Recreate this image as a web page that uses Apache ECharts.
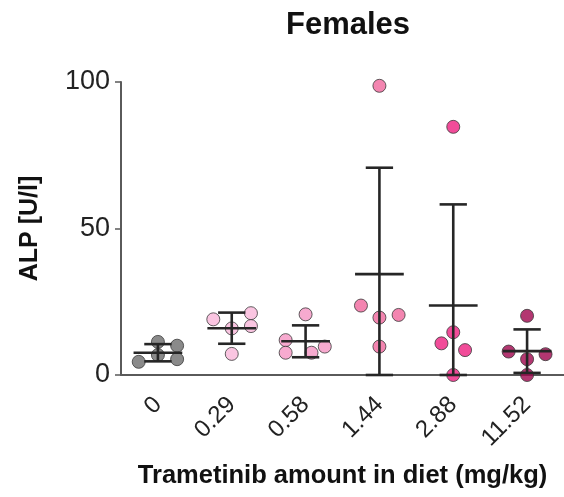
<!DOCTYPE html>
<html>
<head>
<meta charset="utf-8">
<script src="https://cdn.jsdelivr.net/npm/echarts@6/dist/echarts.min.js"></script>
<style>html,body{margin:0;padding:0;background:#fff}#c{width:564px;height:497px}</style>
</head>
<body>
<div id="c"></div>
<script>
// ---- data ----
const categories = ['0', '0.29', '0.58', '1.44', '2.88', '11.52'];
const g0 = [11.3, 10.0, 4.5, 5.4, 6.8];
const g1 = [19.0, 21.1, 16.7, 15.9, 7.2];
const g2 = [20.7, 11.9, 7.6, 7.6, 9.7];
const g3 = [98.7, 23.7, 19.6, 20.5, 9.7];
const g4 = [84.7, 14.6, 10.8, 8.5, 0];
const g5 = [20.2, 8.0, 5.4, 7.1, 0];
// horizontal jitter of each dot, in category widths
const j0 = [0, 0.26, -0.26, 0.26, 0];
const j1 = [-0.25, 0.26, 0.26, 0, 0];
const j2 = [0, -0.27, -0.27, 0.08, 0.26];
const j3 = [0, -0.25, 0, 0.26, 0];
const j4 = [0, 0, -0.16, 0.16, 0];
const j5 = [0, -0.25, 0, 0.25, 0];
const yTicks = [0, 50, 100];

const groups = [g0, g1, g2, g3, g4, g5];
const jitters = [j0, j1, j2, j3, j4, j5];
const colors = ['#6d6d6d', '#f9b6da', '#f595c3', '#f0679c', '#ee1f7f', '#a0054e'];

function mean(a) { return a.reduce((s, v) => s + v, 0) / a.length; }
function sd(a) { const m = mean(a); return Math.sqrt(a.reduce((s, v) => s + (v - m) * (v - m), 0) / (a.length - 1)); }
const stats = groups.map((g, i) => [i, mean(g), sd(g)]);

const chart = echarts.init(document.getElementById('c'), null, { renderer: 'canvas' });
const FONT = 'Liberation Sans, Arial, Helvetica, sans-serif';
const AX = '#5a5a5a';

const scatterSeries = groups.map((g, i) => ({
  type: 'scatter',
  xAxisIndex: 1,
  yAxisIndex: 0,
  clip: false,
  symbolSize: 13,
  z: 2,
  itemStyle: { color: colors[i], borderColor: '#3a3a3a', borderWidth: 1 },
  data: g.map((v, k) => [i + jitters[i][k], v])
}));

chart.setOption({
  animation: false,
  backgroundColor: '#fff',
  title: {
    text: 'Females', left: 343, top: 5, textAlign: 'center',
    textStyle: { fontFamily: FONT, fontSize: 31, fontWeight: 'bold', color: '#111' }
  },
  grid: { left: 121, top: 82, width: 444, height: 293, containLabel: false },
  xAxis: [
    {
      type: 'category', data: categories, boundaryGap: true,
      name: 'Trametinib amount in diet (mg/kg)', nameLocation: 'middle', nameGap: 88,
      nameTextStyle: { fontFamily: FONT, fontSize: 25.5, fontWeight: 'bold', color: '#111' },
      axisLine: { lineStyle: { color: AX, width: 2 } },
      axisTick: { alignWithLabel: true, length: 6, lineStyle: { color: AX, width: 1.5 } },
      axisLabel: { rotate: 45, margin: 26, fontFamily: FONT, fontSize: 24, color: '#222' },
      splitLine: { show: false }
    },
    { type: 'value', min: -0.5, max: 5.5, show: false }
  ],
  yAxis: {
    type: 'value', min: 0, max: 100, interval: 50,
    name: 'ALP [U/l]', nameLocation: 'middle', nameGap: 78, nameRotate: 90,
    nameTextStyle: { fontFamily: FONT, fontSize: 25, fontWeight: 'bold', color: '#111' },
    axisLine: { show: true, onZero: false, lineStyle: { color: AX, width: 2 } },
    axisTick: { show: true, length: 6, lineStyle: { color: AX, width: 1.5 } },
    axisLabel: { margin: 11, fontFamily: FONT, fontSize: 27, color: '#222',
      formatter: v => yTicks.includes(v) ? String(v) : '' },
    splitLine: { show: false }
  },
  series: scatterSeries.concat([{
    type: 'custom',
    xAxisIndex: 1,
    yAxisIndex: 0,
    z: 5,
    clip: false,
    data: stats,
    renderItem: function (params, api) {
      const i = api.value(0), m = api.value(1), s = api.value(2);
      const band = api.size([1, 0])[0];
      const lo = Math.max(0, m - s), hi = m + s;
      const pm = api.coord([i, m]);
      const pl = api.coord([i, lo]);
      const ph = api.coord([i, hi]);
      const mw = band * 0.33, cw = band * 0.185;
      const style = { stroke: '#262626', lineWidth: 2.6, fill: null };
      return {
        type: 'group',
        children: [
          { type: 'line', shape: { x1: pm[0], y1: pl[1], x2: pm[0], y2: ph[1] }, style },
          { type: 'line', shape: { x1: pm[0] - mw, y1: pm[1], x2: pm[0] + mw, y2: pm[1] }, style },
          { type: 'line', shape: { x1: pm[0] - cw, y1: ph[1], x2: pm[0] + cw, y2: ph[1] }, style },
          { type: 'line', shape: { x1: pm[0] - cw, y1: pl[1], x2: pm[0] + cw, y2: pl[1] }, style }
        ]
      };
    }
  }])
});
</script>
</body>
</html>
